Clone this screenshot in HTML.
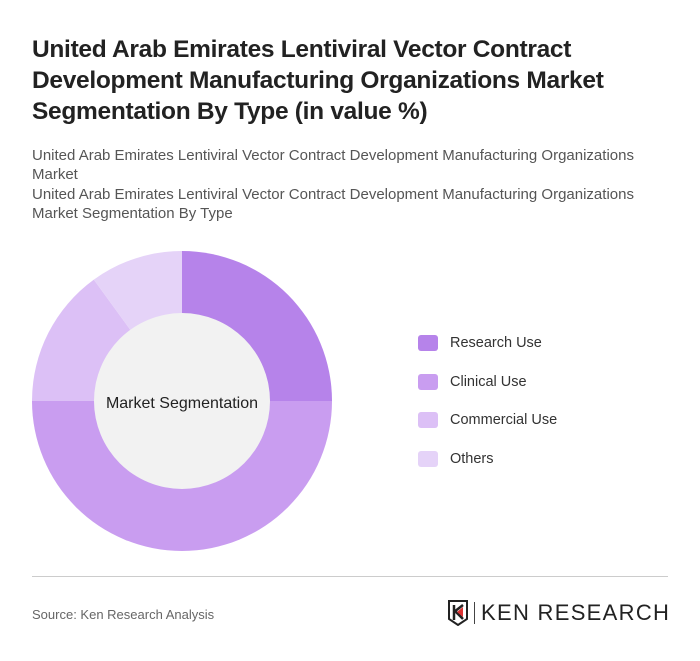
<!DOCTYPE html>
<html><head><meta charset="utf-8"><style>
body{margin:0;background:#fff;font-family:"Liberation Sans",sans-serif;}
#wrap{position:relative;width:700px;height:661px;overflow:hidden;}
h1{position:absolute;left:32px;top:34px;margin:0;width:640px;font-size:24.5px;line-height:31px;font-weight:bold;color:#222;letter-spacing:-0.3px}
.sub{position:absolute;left:32px;width:640px;font-size:15px;line-height:19px;color:#555}
.leg{position:absolute;left:418px;font-size:14.5px;color:#333;display:flex;align-items:center}
.leg span.sw{width:20px;height:16px;border-radius:3px;margin-right:12px;display:inline-block}
</style></head><body><div id="wrap">
<h1>United Arab Emirates Lentiviral Vector Contract Development Manufacturing Organizations Market Segmentation By Type (in value %)</h1>
<div class="sub" style="top:146px">United Arab Emirates Lentiviral Vector Contract Development Manufacturing Organizations Market</div>
<div class="sub" style="top:185px">United Arab Emirates Lentiviral Vector Contract Development Manufacturing Organizations Market Segmentation By Type</div>
<svg id="donut" width="700" height="661" style="position:absolute;left:0;top:0"></svg>
<div id="legend"></div>
<div style="position:absolute;left:32px;top:576px;width:636px;height:1px;background:#ccc"></div>
<div style="position:absolute;left:32px;top:607px;font-size:13px;color:#666">Source: Ken Research Analysis</div>
<div style="position:absolute;left:448px;top:600px;display:flex;align-items:center">
<svg width="20" height="26" viewBox="0 0 20 26"><path d="M1 1H19V19L10 25L1 19Z" fill="none" stroke="#222" stroke-width="2"/><path d="M6 5V20M6 12L15 5M8 12L15 19" stroke="#222" stroke-width="2.5" fill="none"/><path d="M9 12L15 7V17Z" fill="#d33"/></svg>
<div style="width:1px;height:22px;background:#444;margin:0 6px"></div>
<span style="font-size:22px;color:#222;letter-spacing:1.3px">KEN RESEARCH</span></div>
</div>
<script>
const categories=["Research Use","Clinical Use","Commercial Use","Others"];
const values=[25,50,15,10];
const colors=["#b683ea","#c99df0","#dcc0f6","#e5d3f8"];
const svg=document.getElementById('donut');const NS="http://www.w3.org/2000/svg";
const cx=182,cy=401,R=150,r=88;
const total=values.reduce((a,b)=>a+b,0);
function pt(a,rad){return [cx+rad*Math.sin(a),cy-rad*Math.cos(a)];}
let a0=0;
values.forEach((v,i)=>{const a1=a0+v/total*2*Math.PI;const large=(a1-a0)>Math.PI?1:0;
const[p1x,p1y]=pt(a0,R),[p2x,p2y]=pt(a1,R);
const p=document.createElementNS(NS,'path');
p.setAttribute('d',`M${cx},${cy}L${p1x},${p1y}A${R},${R} 0 ${large} 1 ${p2x},${p2y}Z`);
p.setAttribute('fill',colors[i]);


svg.appendChild(p);a0=a1;});
const c=document.createElementNS(NS,'circle');c.setAttribute('cx',cx);c.setAttribute('cy',cy);c.setAttribute('r',r);c.setAttribute('fill','#f2f2f2');


svg.appendChild(c);
const t=document.createElementNS(NS,'text');t.setAttribute('x',cx);t.setAttribute('y',cy+7);t.setAttribute('text-anchor','middle');t.setAttribute('font-size','16');t.setAttribute('fill','#222');t.setAttribute('font-family','Liberation Sans, sans-serif');t.textContent='Market Segmentation';


svg.appendChild(t);
const lg=document.getElementById('legend');
categories.forEach((n,i)=>{const d=document.createElement('div');d.className='leg';d.style.top=(335+i*38.5)+'px';
d.innerHTML=`<span class="sw" style="background:${colors[i]}"></span>${n}`;


lg.appendChild(d);});
</script></body></html>
